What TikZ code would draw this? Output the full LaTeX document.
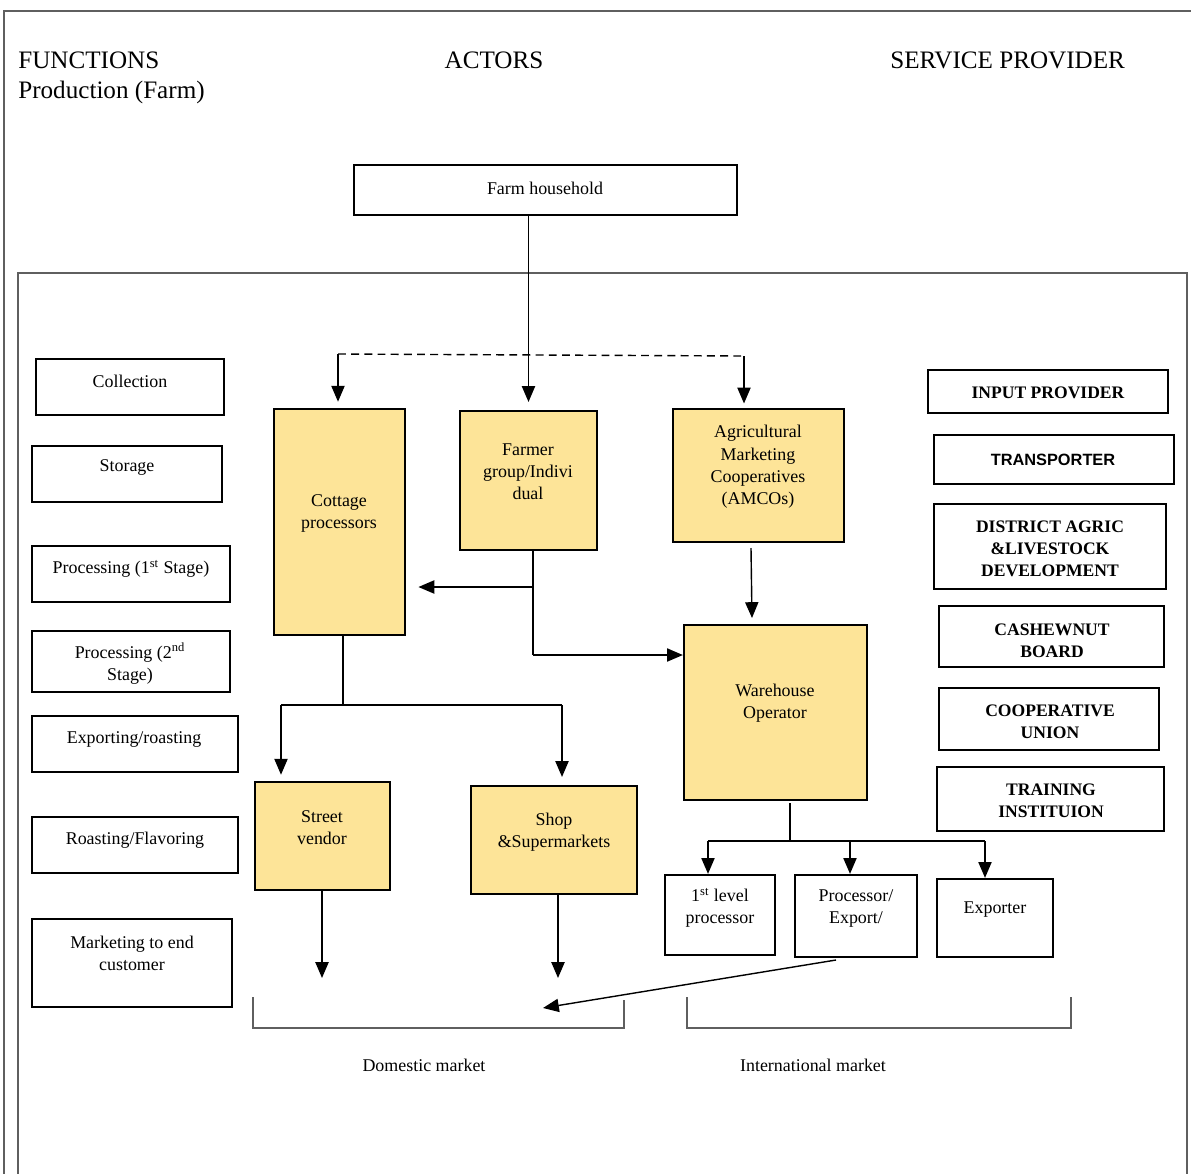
\documentclass[tikz,border=0pt]{standalone}
\usepackage{fontspec}
\setmainfont{Liberation Serif}
\newfontfamily\arialfont{Liberation Sans}
\usetikzlibrary{fit,arrows.meta}
\definecolor{actorfill}{RGB}{253,228,152}
\definecolor{framegray}{RGB}{95,95,95}
\begin{document}
\begin{tikzpicture}[x=0.02cm,y=-0.02cm,
 box/.style={draw=black, line width=1.3pt, inner sep=0pt},
 actor/.style={box, fill=actorfill},
 txt/.style={align=center, font=\fontsize{10.2}{12.6}\selectfont, inner sep=0pt, yshift=-1pt},
 btxt/.style={align=center, font=\fontsize{10}{12.6}\selectfont\bfseries, inner sep=0pt, yshift=-1pt},
 stxt/.style={align=center, font=\fontsize{9.3}{12.6}\selectfont\arialfont\bfseries, inner sep=0pt, yshift=-1pt},
 head/.style={font=\fontsize{14.3}{17}\selectfont, inner sep=0pt},
 conn/.style={line width=0.8pt},
 arr/.style={conn, -{Triangle[length=9pt,width=7.5pt]}},
 frm/.style={draw=framegray, line width=0.9pt}]
\useasboundingbox (0,0) rectangle (1191,1174);
% frames
\draw[frm] (4,1180) -- (4,11) -- (1195,11);
\draw[frm] (18,1180) -- (18,273) -- (1187,273) -- (1187,1180);
% headers
\node[head, anchor=base west] (hfun) at (18,68) {FUNCTIONS};
\node[head, anchor=base west] (hprod) at (18,98) {Production (Farm)};
\node[head, anchor=base] (hact) at (494,68) {ACTORS};
\node[head, anchor=base west] (hsp) at (890,68) {SERVICE PROVIDER};
% farm household
\node[box, fit={(354,165) (737,215)}] (farm) {};
\node[txt] (farmt) at (545,187) {Farm household};
% function boxes
\node[box, fit={(36,359) (224,415)}] (coll) {};
\node[txt] (collt) at (130,380) {Collection};
\node[box, fit={(32,446) (222,502)}] (stor) {};
\node[txt] (stort) at (127,466) {Storage};
\node[box, fit={(32,546) (230,602)}] (proc1) {};
\node[txt] (proc1t) at (131,567) {Processing (1\textsuperscript{st} Stage)};
\node[box, fit={(32,631) (230,692)}] (proc2) {};
\node[txt] (proc2t) at (130,662) {Processing (2\textsuperscript{nd}\\Stage)};
\node[box, fit={(32,716) (238,772)}] (expr) {};
\node[txt] (exprt) at (134,738) {Exporting/roasting};
\node[box, fit={(32,817) (238,873)}] (roast) {};
\node[txt] (roastt) at (135,838) {Roasting/Flavoring};
\node[box, fit={(32,919) (232,1007)}] (mkt) {};
\node[txt] (mktt) at (132,952) {Marketing to end\\customer};
% service providers
\node[box, fit={(928,370) (1168,413)}] (inp) {};
\node[btxt] (inpt) at (1048,391) {INPUT PROVIDER};
\node[box, fit={(934,435) (1174,484)}] (trans) {};
\node[stxt] (transt) at (1053,458) {TRANSPORTER};
\node[box, fit={(934,504) (1166,589)}] (dist) {};
\node[btxt] (distt) at (1050,547) {DISTRICT AGRIC\\\&LIVESTOCK\\DEVELOPMENT};
\node[box, fit={(939,606) (1164,667)}] (cash) {};
\node[btxt] (casht) at (1052,639) {CASHEWNUT\\BOARD};
\node[box, fit={(939,688) (1159,750)}] (coop) {};
\node[btxt] (coopt) at (1050,720) {COOPERATIVE\\UNION};
\node[box, fit={(937,767) (1164,831)}] (train) {};
\node[btxt] (traint) at (1051,799) {TRAINING\\INSTITUION};
% actors
\node[actor, fit={(274,409) (405,635)}] (cott) {};
\node[txt] (cottt) at (339,512) {Cottage\\processors};
\node[actor, fit={(460,411) (597,550)}] (fgrp) {};
\node[txt] (fgrpt) at (528,470) {Farmer\\group/Indivi\\dual};
\node[actor, fit={(673,409) (844,542)}] (amco) {};
\node[txt] (amcot) at (758,465) {Agricultural\\Marketing\\Cooperatives\\(AMCOs)};
\node[actor, fit={(684,625) (867,800)}] (wh) {};
\node[txt] (wht) at (775,701) {Warehouse\\Operator};
\node[actor, fit={(255,782) (390,890)}] (street) {};
\node[txt] (streett) at (322,826) {Street\\vendor};
\node[actor, fit={(471,786) (637,894)}] (shop) {};
\node[txt] (shopt) at (554,830) {Shop\\\&Supermarkets};
\node[box, fit={(665,875) (775,955)}] (lvl1) {};
\node[txt] (lvl1t) at (720,906) {1\textsuperscript{st} level\\processor};
\node[box, fit={(795,875) (917,957)}] (pexp) {};
\node[txt] (pexpt) at (856,907) {Processor/\\Export/};
\node[box, fit={(937,879) (1053,957)}] (expo) {};
\node[txt] (expot) at (995,908) {Exporter};
% connectors: farm household
\coordinate (dl) at (338,354);
\coordinate (dr) at (744,356);
\draw[arr] (farm.south -| fgrp.north) -- ([yshift=4.5pt]fgrp.north);
\draw[conn, dash pattern=on 4.5pt off 3pt] (dl) -- (dr);
\draw[arr] (dl) -- ([yshift=3.5pt]dl |- cott.north);
\draw[arr] (dr) -- ([yshift=2.5pt]dr |- amco.north);
% farmer group
\coordinate (fg0) at (533,550);
\coordinate (fg1) at (533,587);
\coordinate (fg2) at (533,655);
\draw[conn] (fg0) -- (fg2);
\draw[arr] (fg1) -- ([xshift=7pt]cott.east |- fg1);
\draw[arr] (fg2) -- (wh.west |- fg2);
% AMCOs to warehouse
\coordinate (am0) at (751,548);
\coordinate (am1) at (752,618);
\draw[arr] (am0) -- (am1);
% cottage split
\coordinate (c0) at (343,635);
\coordinate (c1) at (343,705);
\coordinate (cl) at (281,705);
\coordinate (cr) at (562,705);
\draw[conn] (c0) -- (c1);
\draw[conn] (cl) -- (cr);
\draw[arr] (cl) -- ([yshift=3.5pt]cl |- street.north);
\draw[arr] (cr) -- ([yshift=4.5pt]cr |- shop.north);
% warehouse split
\coordinate (w0) at (790,803);
\coordinate (w1) at (790,841);
\coordinate (wl) at (708,841);
\coordinate (wm) at (850,841);
\coordinate (wr) at (985,841);
\draw[conn] (w0) -- (w1);
\draw[conn] (wl) -- (wr);
\draw[arr] (wl) -- (wl |- lvl1.north);
\draw[arr] (wm) -- (wm |- pexp.north);
\draw[arr] (wr) -- (wr |- expo.north);
% to markets
\coordinate (sve) at (322,978);
\coordinate (she) at (558,978);
\coordinate (pe0) at (836,960);
\coordinate (pe1) at (543,1008);
\draw[arr] (street.south -| sve) -- (sve);
\draw[arr] (shop.south -| she) -- (she);
\draw[arr] (pe0) -- (pe1);
% brackets
\draw[draw=framegray, line width=0.8pt] (253,997) -- (253,1028) -- (624,1028) -- (624,1000);
\draw[draw=framegray, line width=0.8pt] (687,997) -- (687,1028) -- (1071,1028) -- (1071,997);
\node[txt] (dom) at (424,1064) {Domestic market};
\node[txt] (intl) at (813,1064) {International market};
\end{tikzpicture}
\end{document}
